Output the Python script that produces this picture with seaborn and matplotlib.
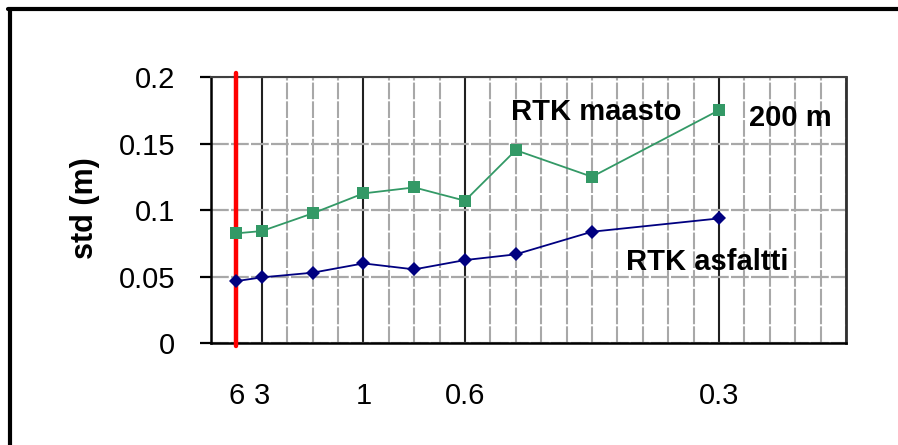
import numpy as np
import pandas as pd
import seaborn as sns
import matplotlib.pyplot as plt
from matplotlib.lines import Line2D
from matplotlib.ticker import MultipleLocator

# data (x = position on the 6/interval axis)
rate = [1, 2, 4, 6, 8, 10, 12, 15, 20]
maasto = [0.0825, 0.0842, 0.0975, 0.1125, 0.117, 0.107, 0.145, 0.125, 0.175]
asfaltti = [0.0466, 0.0494, 0.0529, 0.0599, 0.0554, 0.0624, 0.0667, 0.0837, 0.0937]

xtick_pos = [1, 2, 6, 10, 20]
xtick_labels = ['6', '3', '1', '0.6', '0.3']
ytick_pos = [0, 0.05, 0.1, 0.15, 0.2]
ytick_labels = ['0', '0.05', '0.1', '0.15', '0.2']

df = pd.DataFrame({'rate': rate, 'maasto': maasto, 'asfaltti': asfaltti})

sns.set_theme(style='white')
plt.rcParams['font.family'] = ['Liberation Sans', 'DejaVu Sans']
plt.rcParams['text.color'] = 'black'
plt.rcParams['axes.labelcolor'] = 'black'

fig = plt.figure(figsize=(8.98, 4.45), dpi=100)
ax = fig.add_axes([0.235, 0.229, 0.707, 0.598])

green = '#339966'
navy = '#000080'

sns.lineplot(data=df, x='rate', y='maasto', ax=ax, color=green, marker='s',
             markersize=8.5, markeredgewidth=0, linewidth=1.3, zorder=5)
sns.lineplot(data=df, x='rate', y='asfaltti', ax=ax, color=navy, marker='D',
             markersize=7, markeredgewidth=0, linewidth=1.3, zorder=5)

ax.axvline(1, ymin=-0.01, ymax=1.015, color='red', lw=3.2, zorder=4, clip_on=False)

ax.set_xlim(0, 25)
ax.set_ylim(0, 0.2)
ax.set_xticks(xtick_pos)
ax.set_xticklabels(xtick_labels)
ax.xaxis.set_minor_locator(MultipleLocator(1))
ax.set_yticks(ytick_pos)
ax.set_yticklabels(ytick_labels)

ax.tick_params(axis='x', which='both', length=0, pad=28, labelsize=21, colors='black')
ax.tick_params(axis='y', which='major', direction='out', length=8, width=1.6,
               pad=18, labelsize=21, colors='black', left=True)

ax.set_axisbelow(True)
ax.xaxis.grid(True, which='major', color='#202020', lw=1.5)
ax.xaxis.grid(True, which='minor', color='#a8a8a8', lw=1.5, ls=(0, (8, 1)))
ax.yaxis.grid(True, which='major', color='#a8a8a8', lw=1.6, ls=(0, (8, 1)))

for side in ['left', 'bottom']:
    ax.spines[side].set_color('black')
    ax.spines[side].set_linewidth(1.8)
ax.spines['top'].set_color('#404040')
ax.spines['top'].set_linewidth(1.5)
ax.spines['right'].set_color('#303030')
ax.spines['right'].set_linewidth(2)

ax.set_xlabel('')
ax.set_ylabel('std (m)', fontsize=22, fontweight='bold', va='center', color='black')
ax.yaxis.set_label_coords(-0.198, 0.506)

ax.text(11.8, 0.1677, 'RTK maasto', fontsize=21, fontweight='bold', va='baseline', color='black')
ax.text(21.2, 0.1632, '200 m', fontsize=21, fontweight='bold', va='baseline', color='black')
ax.text(16.34, 0.0549, 'RTK asfaltti', fontsize=21, fontweight='bold', va='baseline', color='black')

# outer frame (left and top edges only)
fig.add_artist(Line2D([10 / 898, 10 / 898], [0, 1 - 9 / 445], color='black', lw=3))
fig.add_artist(Line2D([8 / 898, 1], [1 - 9 / 445, 1 - 9 / 445], color='black', lw=3))

fig.savefig('out.png', dpi=100)
